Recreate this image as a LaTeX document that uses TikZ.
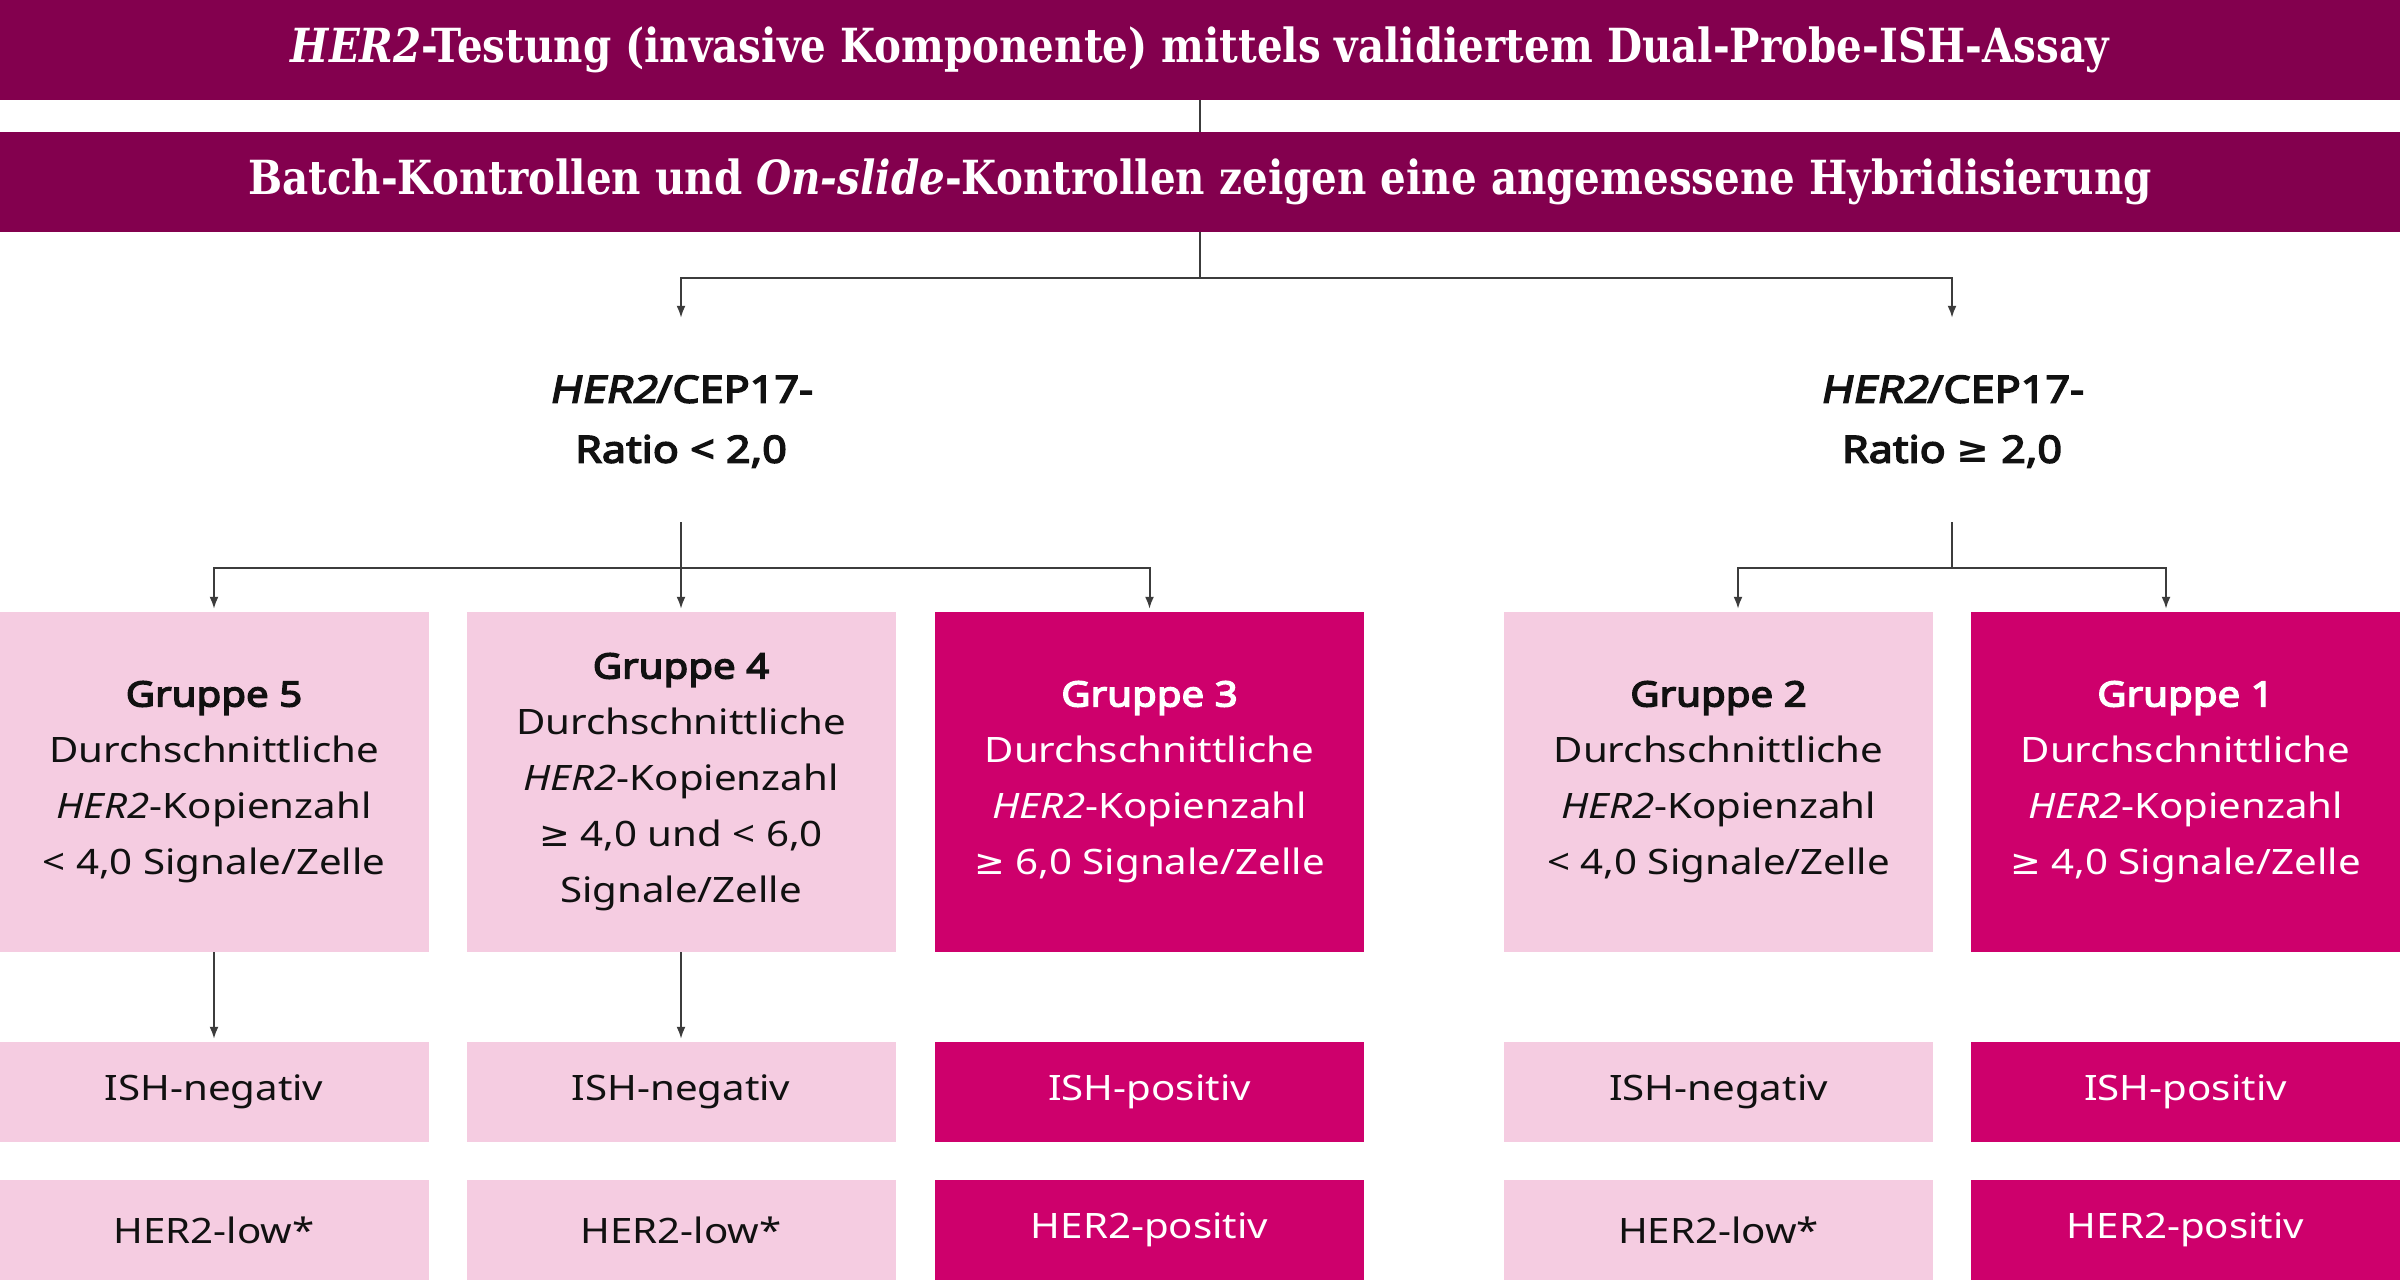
\documentclass[tikz,border=0pt]{standalone}
\usepackage{fontspec}
\setmainfont{Noto Sans}[FakeStretch=1.15,
  BoldFont={Noto Sans}, BoldFeatures={FakeBold=4},
  BoldItalicFont={Noto Sans}, BoldItalicFeatures={FakeBold=4, FakeSlant=0.2}]
\newfontfamily\titlefont{DejaVu Serif}[FakeStretch=0.86]
\newfontfamily\symfont{DejaVu Sans}[FakeStretch=1.05]
\newcommand{\gq}{{\symfont ≥}}
\usetikzlibrary{arrows.meta,calc}
\definecolor{barc}{HTML}{83004E}
\definecolor{magc}{HTML}{CE006C}
\definecolor{pinkc}{HTML}{F5CCE1}
\definecolor{linec}{HTML}{3C3C3C}
\definecolor{txtc}{HTML}{111111}
\begin{document}
\begin{tikzpicture}[x=1pt,y=-1pt,
  bar/.style={fill=barc, text=white, minimum width=2400pt, minimum height=100pt, inner sep=0pt,
    font=\titlefont\bfseries\fontsize{47}{56}\selectfont},
  pinkbox/.style={fill=pinkc, text=txtc, minimum width=429pt, inner sep=0pt, align=center,
    font=\fontsize{35}{56}\selectfont},
  magbox/.style={pinkbox, fill=magc, text=white},
  lab/.style={align=center, text=txtc, font=\bfseries\fontsize{37.5}{60}\selectfont, minimum height=201pt, inner sep=0pt},
  ln/.style={draw=linec, line width=2pt},
  arr/.style={ln, -{Latex[length=12pt,width=9pt]}, shorten >=3pt}]
\useasboundingbox (0,0) rectangle (2400,1280);
\fill[white] (0,0) rectangle (2400,1280);

% header bars
\node[bar] (b1) at (1200,50) {\textit{HER2}-Testung (invasive Komponente) mittels validiertem Dual-Probe-ISH-Assay};
\node[bar] (b2) at (1200,182) {Batch-Kontrollen und \textit{On-slide}-Kontrollen zeigen eine angemessene Hybridisierung};

% ratio labels
\node[lab] (l1) at (681,421.5) {\textit{HER2}/CEP17-\\Ratio < 2,0};
\node[lab] (l2) at (1952,421.5) {\textit{HER2}/CEP17-\\Ratio \gq{} 2,0};

% group boxes
\node[pinkbox, minimum height=340pt] (g5) at (214,782) {\textbf{Gruppe 5}\\Durchschnittliche\\\textit{HER2}-Kopienzahl\\< 4,0 Signale/Zelle};
\node[pinkbox, minimum height=340pt] (g4) at (681,782) {\textbf{Gruppe 4}\\Durchschnittliche\\\textit{HER2}-Kopienzahl\\\gq{} 4,0 und < 6,0\\Signale/Zelle};
\node[magbox, minimum height=340pt] (g3) at (1149.5,782) {\textbf{Gruppe 3}\\Durchschnittliche\\\textit{HER2}-Kopienzahl\\\gq{} 6,0 Signale/Zelle};
\node[pinkbox, minimum height=340pt] (g2) at (1718.5,782) {\textbf{Gruppe 2}\\Durchschnittliche\\\textit{HER2}-Kopienzahl\\< 4,0 Signale/Zelle};
\node[magbox, minimum height=340pt] (g1) at (2185.5,782) {\textbf{Gruppe 1}\\Durchschnittliche\\\textit{HER2}-Kopienzahl\\\gq{} 4,0 Signale/Zelle};

% ISH result row
\node[pinkbox, minimum height=100pt] (i5) at (214,1092) {ISH-negativ};
\node[pinkbox, minimum height=100pt] (i4) at (681,1092) {ISH-negativ};
\node[magbox, minimum height=100pt] (i3) at (1149.5,1092) {ISH-positiv};
\node[pinkbox, minimum height=100pt] (i2) at (1718.5,1092) {ISH-negativ};
\node[magbox, minimum height=100pt] (i1) at (2185.5,1092) {ISH-positiv};

% HER2 status row
\node[pinkbox, minimum height=100pt] (h5) at (214,1230) {HER2-low*};
\node[pinkbox, minimum height=100pt] (h4) at (681,1230) {HER2-low*};
\node[magbox, minimum height=100pt] (h3) at (1149.5,1230) {HER2-positiv};
\node[pinkbox, minimum height=100pt] (h2) at (1718.5,1230) {HER2-low*};
\node[magbox, minimum height=100pt] (h1) at (2185.5,1230) {HER2-positiv};

% connectors
\draw[ln] (b1.south) -- (b2.north);
\draw[arr] (b2.south) -- ++(0,46) -| (l1.north);
\draw[arr] (b2.south) -- ++(0,46) -| (l2.north);

\draw[arr] (l1.south) -- ++(0,46) -| (g5.north);
\draw[arr] (l1.south) -- (g4.north);
\draw[arr] (l1.south) -- ++(0,46) -| (g3.north);

\draw[arr] (l2.south) -- ++(0,46) -| ([xshift=19.5pt]g2.north);
\draw[arr] (l2.south) -- ++(0,46) -| ([xshift=-19.5pt]g1.north);

\draw[arr] (g5.south) -- (i5.north);
\draw[arr] (g4.south) -- (i4.north);
\end{tikzpicture}
\end{document}
